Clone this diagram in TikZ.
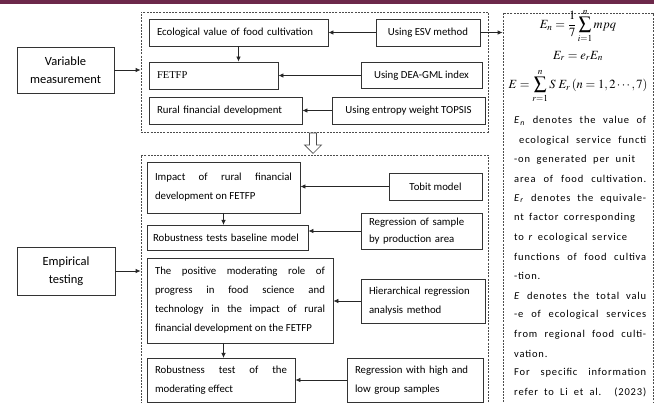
\documentclass[tikz,border=0pt]{standalone}
\usepackage{mathptmx}
\usepackage{fontspec}
\setmainfont{Carlito}
\newfontfamily\timesfont{Liberation Serif}
\newfontfamily\notefont[LetterSpace=8]{Carlito}
\usetikzlibrary{arrows.meta}
\definecolor{barred}{RGB}{108,40,74}
\tikzset{
  box/.style={draw=black!80, line width=0.8pt, inner xsep=8pt, inner ysep=0pt,
    align=left, font={\fontsize{10.8}{19}\selectfont}},
  jbox/.style={box, align=justify},
  bigbox/.style={draw=black!80, line width=0.8pt, align=center,
    font={\fontsize{12.5}{18}\selectfont}},
  group/.style={draw=black!70, line width=0.7pt, dash pattern=on 2pt off 1.2pt, inner sep=0pt},
  link/.style={draw=black!85, line width=0.8pt, -{Latex[length=5pt,width=4.5pt]}},
  formula/.style={inner sep=0pt, font={\fontsize{12.5}{14}\selectfont}},
  noteline/.style={anchor=west, inner sep=0pt, font={\notefont\fontsize{10.5}{12}\selectfont}}
}
\begin{document}
\begin{tikzpicture}[x=1pt,y=-1pt]
  \clip (0,0) rectangle (654,403);
  \fill[barred] (0,0) rectangle (654,4);
  % dashed groups
  \node[group, minimum width=347pt, minimum height=120pt] (measure) at (314.5,72) {};
  \node[group, minimum width=347pt, minimum height=265pt] (testing) at (314.5,287.5) {};
  \node[group, minimum width=150pt, minimum height=407pt] (notes) at (578,216.5) {};
  % left labels
  \node[bigbox, minimum width=97pt, minimum height=46pt] (vm) at (65.5,70) {Variable\\measurement};
  \node[bigbox, minimum width=98pt, minimum height=48pt] (emp) at (66,271) {Empirical\\testing};
  % variable measurement
  \node[box, text width=163pt, minimum height=27pt] (eco) at (238.5,32.5) {Ecological value of food cultivation};
  \node[box, text width=113pt, minimum height=27pt, font=\timesfont\fontsize{10.5}{12}\selectfont] (fetfp) at (213.5,75.5) {FETFP};
  \node[box, text width=137pt, minimum height=27pt] (rfd) at (225.5,110.5) {Rural financial development};
  \node[box, align=center, minimum width=104pt, minimum height=27pt] (esv) at (428,32.5) {Using ESV method};
  \node[box, align=center, minimum width=121pt, minimum height=26pt] (dea) at (421.5,75.5) {Using DEA-GML index};
  \node[box, align=center, minimum width=153pt, minimum height=27pt] (topsis) at (408.5,110.5) {Using entropy weight TOPSIS};
  \draw[link] (esv) -- (eco);
  \draw[link] (dea) -- (fetfp);
  \draw[link] (topsis) -- (rfd);
  \draw[link] (eco.south) -- (eco.south |- fetfp.north);
  \draw[link] (esv.east) -- (esv.east -| notes.west);
  \draw[link] (vm.east) -- (vm.east -| measure.west);
  % hollow arrow
  \draw[black!70, line width=0.7pt, fill=white]
    (309.5,133) -- (316.5,133) -- (316.5,145) -- (321.5,145) -- (313,153.5)
    -- (304.5,145) -- (309.5,145) -- cycle;
  % empirical testing
  \node[jbox, text width=137pt, minimum height=51pt] (impact) at (223.5,187.5)
    {Impact of rural financial\linebreak development on FETFP};
  \node[box, inner xsep=6pt, text width=149pt, minimum height=25pt] (base) at (227.5,237.5) {Robustness tests baseline model};
  \node[jbox, text width=170pt, minimum height=85pt] (moder) at (240,300.5)
    {The positive moderating role of\linebreak progress in food science and\linebreak technology in the impact of rural\linebreak financial development on the FETFP};
  \node[jbox, text width=132pt, minimum height=44pt] (robmod) at (221,380)
    {Robustness test of the\linebreak moderating effect};
  \node[box, align=center, minimum width=93pt, minimum height=27pt] (tobit) at (435.5,186.5) {Tobit model};
  \node[box, text width=105pt, minimum height=36pt, font={\fontsize{10.8}{16.5}\selectfont}] (prod) at (421.5,231)
    {Regression of sample\\by production area};
  \node[box, text width=108pt, minimum height=44pt] (hier) at (423,301)
    {Hierarchical regression\\analysis method};
  \node[box, text width=120pt, minimum height=44pt] (group) at (415,380)
    {Regression with high and\\low group samples};
  \draw[link] (tobit.west) -- (tobit.west -| impact.east);
  \draw[link] (prod.west) -- (prod.west -| base.east);
  \draw[link] (hier.west) -- (hier.west -| moder.east);
  \draw[link] (group.west) -- (group.west -| robmod.east);
  \draw[link] (223.5,213) -- (223.5,225);
  \draw[link] (223.5,343) -- (223.5,358);
  \draw[link] (emp.east) -- (emp.east -| testing.west);
  % notes
  \node[formula] (f1) at (578,26) {$\displaystyle E_n=\frac{1}{7}\sum_{i=1}^{n} mpq$};
  \node[formula] (f2) at (578,56) {$E_r=e_rE_n$};
  \node[formula] (f3) at (578,86) {$\displaystyle E=\sum_{r=1}^{n} S\;E_r\,(n=1,2\cdots,7)$};
  \foreach \lw/\txt [count=\i from 0] in {
      132/{\textit{E}\textsubscript{\textit{n}} denotes the value of},
      132/{\hspace{5pt}ecological service functi},
      121/{-on generated per unit},
      132/{area of food cultivation.},
      132/{\textit{E}\textsubscript{\textit{r}} denotes the equivale-},
      121/{nt factor corresponding},
      113/{to \textit{r} ecological service},
      132/{functions of food cultiva},
      132/{-tion.},
      132/{\textit{E} denotes the total valu},
      132/{-e of ecological services},
      132/{from regional food culti-},
      132/{vation.},
      132/{For specific information},
      132/{refer to Li et al. (2023)}}
    \node[noteline] (note\i) at (514,{121+19.4*\i}) {\makebox[\lw pt][s]{\txt}};
\end{tikzpicture}
\end{document}
